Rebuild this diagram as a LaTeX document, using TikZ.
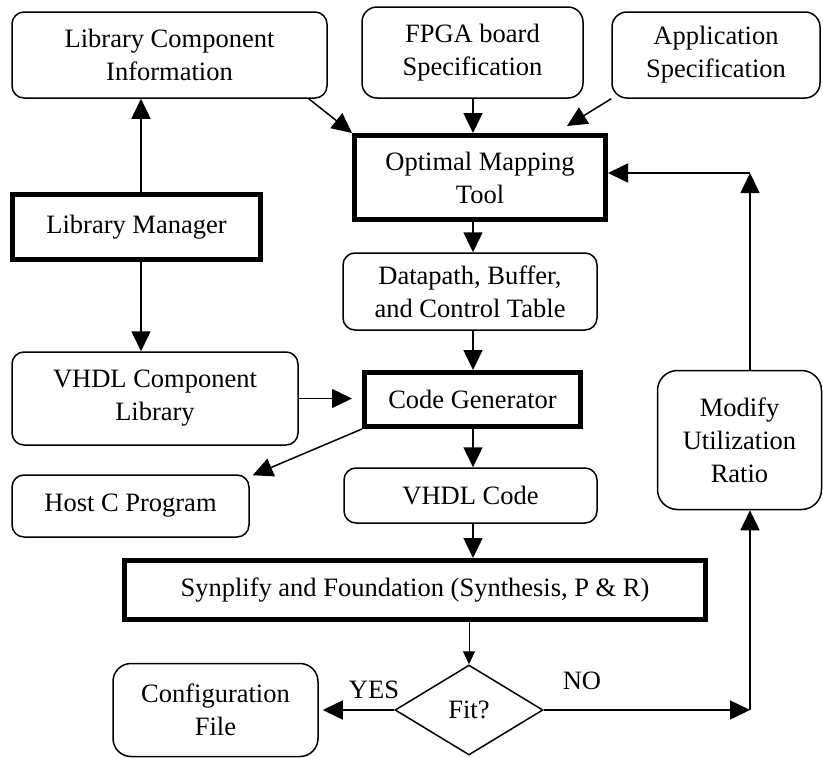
\documentclass[tikz,border=0pt]{standalone}
\usepackage{fontspec}
\setmainfont{Liberation Serif}
\usetikzlibrary{arrows.meta,shapes.geometric,calc}
\begin{document}
\begin{tikzpicture}[x=1pt,y=-1pt,
  txt/.style={font=\fontsize{26.5}{33}\selectfont, align=center, inner sep=0pt},
  rbox/.style={txt, draw, line width=1.5pt, rounded corners=12pt},
  tbox/.style={txt, draw, line width=5pt},
  arr/.style={line width=1.5pt, -{Triangle[length=20pt,width=19pt]}},
  sarr/.style={line width=1pt, -{Triangle[length=13pt,width=12pt]}}]
\useasboundingbox (0,0) rectangle (823,758);
% nodes
\node[rbox, minimum width=315pt, minimum height=86pt] (lci) at (169.5,55) {Library Component\\Information};
\node[rbox, minimum width=221pt, minimum height=91pt, rounded corners=15pt] (fpga) at (472.5,52.5) {FPGA board\\Specification};
\node[rbox, minimum width=208pt, minimum height=86pt, rounded corners=15pt] (app) at (716,55) {Application\\Specification};
\node[tbox, minimum width=251pt, minimum height=84pt] (omt) at (480,177.5) {Optimal Mapping\\Tool};
\node[tbox, minimum width=248pt, minimum height=65pt] (lm) at (136.5,227) {Library Manager};
\node[rbox, minimum width=254pt, minimum height=77pt] (dp) at (470,291.5) {Datapath, Buffer,\\and Control Table};
\node[rbox, minimum width=286pt, minimum height=93pt] (vcl) at (155,398.5) {VHDL Component\\Library};
\node[tbox, minimum width=216pt, minimum height=54pt] (cg) at (472.5,399.5) {Code Generator};
\node[rbox, minimum width=237pt, minimum height=62pt] (host) at (130.5,506) {Host C Program};
\node[rbox, minimum width=253pt, minimum height=55pt] (vc) at (470.5,495.5) {VHDL Code};
\node[rbox, minimum width=164pt, minimum height=139pt, rounded corners=20pt] (mod) at (739.5,440) {Modify\\Utilization\\Ratio};
\node[tbox, minimum width=581pt, minimum height=59pt] (syn) at (415,590) {Synplify and Foundation (Synthesis, P \& R)};
\node[txt, draw, line width=1.5pt, diamond, minimum width=148pt, minimum height=90pt] (fit) at (469,710) {Fit?};
\node[rbox, minimum width=205pt, minimum height=93pt, rounded corners=18pt] (cfg) at (215.5,710) {Configuration\\File};
\node[txt] (yes) at (374,690) {YES};
\node[txt] (no) at (582,681) {NO};
% helper coordinates
\coordinate (ax) at (141,0);
\coordinate (mx) at (473,0);
\coordinate (c1) at (750,710);
\coordinate (c2) at (750,173);
\coordinate (append) at (567,126);
% connectors
\draw[arr] (lm.north -| ax) -- (lci.south -| ax);
\draw[arr] (lm.south -| ax) -- (vcl.north -| ax);
\draw[arr] ($(lci.south east)+(-19,0)$) -- (omt.north west);
\draw[arr] (fpga.south -| mx) -- (omt.north -| mx);
\draw[arr] (app.south west) -- (append);
\draw[arr] (omt.south -| mx) -- (dp.north -| mx);
\draw[arr] (dp.south -| mx) -- (cg.north -| mx);
\draw[arr, shorten >=10pt] (vcl.east) -- (vcl.east -| cg.west);
\draw[arr] (cg.south west) -- ($(host.north east)+(3,1)$);
\draw[arr] (cg.south -| mx) -- (vc.north -| mx);
\draw[arr] (vc.south -| mx) -- (syn.north -| mx);
\draw[sarr] (syn.south -| fit.north) -- (fit.north);
\draw[arr, shorten >=4pt] (fit.west) -- (cfg.east);
\draw[arr] (fit.east) -- (c1);
\draw[arr] (c1) -- (mod.south -| c1);
\draw[arr] (mod.north -| c2) -- (c2);
\draw[arr] (c2) -- (c2 -| omt.east);
\end{tikzpicture}
\end{document}
